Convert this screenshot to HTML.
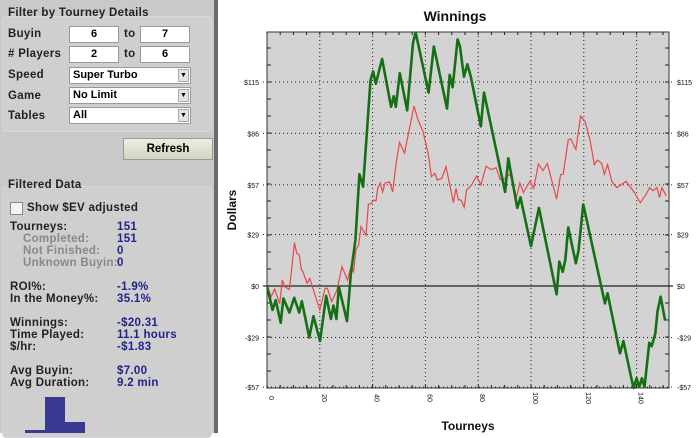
<!DOCTYPE html>
<html><head><meta charset="utf-8"><style>
body{margin:0;width:700px;height:433px;overflow:hidden;background:#fff;font-family:"Liberation Sans",sans-serif;position:relative}
#panel{position:absolute;left:0;top:0;width:214px;height:433px;background:#c9c9c9;border-right:4px solid #6a6a6a}
.t{position:absolute;font-size:11.5px;letter-spacing:0.3px;font-weight:bold;color:#222;white-space:nowrap}
.g{position:absolute;background:#cfcfcf;border:1px solid #d8d8d8;border-radius:4px}
.in{position:absolute;background:#fff;border:1px solid #999;height:15px;font-size:11px;font-weight:bold;text-align:center;line-height:15px}
.sel{position:absolute;background:#fff;border:1px solid #999;height:15px;font-size:11px;font-weight:bold;line-height:15px;padding-left:3px;box-sizing:content-box}
.sel i{position:absolute;right:1px;top:1px;width:11px;height:13px;background:#e4e4e4;border:1px solid #aaa;box-sizing:border-box;font-style:normal;font-size:7px;text-align:center;line-height:12px}
.v{color:#22228a}.gr{color:#888}
</style></head><body>
<div id="panel">
<div class="g" style="left:2px;top:16px;width:208px;height:114px"></div>
<div class="t" style="left:8px;top:7px">Filter by Tourney Details</div>
<div class="t" style="left:8px;top:28px">Buyin</div>
<div class="in" style="left:69px;top:26px;width:48px">6</div>
<div class="t" style="left:124px;top:28px">to</div>
<div class="in" style="left:140px;top:26px;width:48px">7</div>
<div class="t" style="left:8px;top:48px"># Players</div>
<div class="in" style="left:69px;top:46px;width:48px">2</div>
<div class="t" style="left:124px;top:48px">to</div>
<div class="in" style="left:140px;top:46px;width:48px">6</div>
<div class="t" style="left:8px;top:69px">Speed</div>
<div class="sel" style="left:69px;top:67px;width:117px">Super Turbo<i>▼</i></div>
<div class="t" style="left:8px;top:90px">Game</div>
<div class="sel" style="left:69px;top:87px;width:117px">No Limit<i>▼</i></div>
<div class="t" style="left:8px;top:110px">Tables</div>
<div class="sel" style="left:69px;top:107px;width:117px">All<i>▼</i></div>
<div style="position:absolute;left:123px;top:138px;width:88px;height:20px;background:linear-gradient(#eeeede,#d4d4c4);border:1px solid #999;font-size:11.5px;font-weight:bold;text-align:center;line-height:20px">Refresh</div>
<div class="g" style="left:2px;top:186px;width:208px;height:250px"></div>
<div class="t" style="left:8px;top:179px">Filtered Data</div>
<div style="position:absolute;left:10px;top:202px;width:11px;height:11px;background:#f4f4f4;border:1px solid #888"></div>
<div class="t" style="left:27px;top:202px">Show $EV adjusted</div>
<div class="t" style="left:10px;top:221px">Tourneys:</div><div class="t v" style="left:117px;top:221px">151</div>
<div class="t gr" style="left:23px;top:233px">Completed:</div><div class="t v" style="left:117px;top:233px">151</div>
<div class="t gr" style="left:23px;top:245px">Not Finished:</div><div class="t v" style="left:117px;top:245px">0</div>
<div class="t gr" style="left:23px;top:257px">Unknown Buyin:</div><div class="t v" style="left:117px;top:257px">0</div>
<div class="t" style="left:10px;top:281px">ROI%:</div><div class="t v" style="left:117px;top:281px">-1.9%</div>
<div class="t" style="left:10px;top:293px">In the Money%:</div><div class="t v" style="left:117px;top:293px">35.1%</div>
<div class="t" style="left:10px;top:317px">Winnings:</div><div class="t v" style="left:117px;top:317px">-$20.31</div>
<div class="t" style="left:10px;top:329px">Time Played:</div><div class="t v" style="left:117px;top:329px">11.1 hours</div>
<div class="t" style="left:10px;top:341px">$/hr:</div><div class="t v" style="left:117px;top:341px">-$1.83</div>
<div class="t" style="left:10px;top:365px">Avg Buyin:</div><div class="t v" style="left:117px;top:365px">$7.00</div>
<div class="t" style="left:10px;top:377px">Avg Duration:</div><div class="t v" style="left:117px;top:377px">9.2 min</div>
<div style="position:absolute;left:25px;top:430px;width:20px;height:3px;background:#3a3890"></div>
<div style="position:absolute;left:45px;top:397px;width:20px;height:36px;background:#3a3890"></div>
<div style="position:absolute;left:65px;top:422px;width:20px;height:11px;background:#3a3890"></div>
</div>
<svg id="chart" width="700" height="433" style="position:absolute;left:0;top:0"></svg>
<script>
const xTicks=[0,20,40,60,80,100,120,140];
const yTicks=[-57,-29,0,29,57,86,115];
const yTickLabels=["-$57","-$29","$0","$29","$57","$86","$115"];
const greenT=[0,2.1,3.3,5.2,6.2,8.5,10.3,12.2,13.2,16,17.6,20.1,22.4,24.2,25.2,26.3,27.2,30.3,31.8,33.5,35,36.4,37.9,39.2,40.2,41.2,43.6,47,48,48.8,50.3,53.1,55.3,56.3,61.2,63.2,68.2,69.2,70.3,72.2,73.1,74.6,75.9,77.2,81,82.2,90.2,91.4,94.8,96,100,103,109.7,110.7,112,113,114.1,117,118,119.8,128,129,133.7,135,138.8,140,141,142,143,144.8,145.7,147.1,147.9,149.1,150.8];
const greenV=[0,-13.5,-8,-20.7,-7,-15,-6.6,-15,-8.6,-29,-17,-31,-5.6,-18.6,-11,-18.6,-0.4,-19.8,7.5,26,63,56,88,116,121,114,128,101,107,101,120,99,137,143,109,135,100,119,112,139,135,118,125,118,90,109,53,72,44,50,22.5,44,-4.7,13.7,8,14.7,33,12.8,20,46,-9.8,-4.1,-38,-31,-57.5,-52,-57,-52,-57,-32,-34,-26.7,-14.5,-6,-19.5];
const redT=[0,1.6,2.9,4.8,5.8,6.7,8.5,10.4,11.3,12.2,13,13.6,15.2,16.2,20,22,22.9,24.5,26.5,28.4,30.5,31.8,32.8,33.7,34.7,35.6,37.5,38.4,39.4,40.4,41.3,41.9,42.9,43.8,44.7,46.4,47.6,48.9,50.2,52.1,55.7,57.2,59.1,61,62.3,63.6,64.5,66.2,67.8,70.6,71.6,72.5,73.5,74.7,75.6,77.5,79.4,81,83,84.8,86.8,88.3,89.6,92,93.3,94.5,95.8,97.1,99.6,101,102.8,104.5,106.2,109.7,111.2,112.2,114.1,115,117,118.8,120.5,122.4,124,125.2,126.8,127.8,129,130.6,132.5,136,139,141.4,143.3,145,146.2,147.7,148.7,149.6,151.2];
const redV=[0,-6,-1.7,-10,3.4,-0.4,-2,24.4,18.4,17.5,9.4,8,1.5,4.3,-13.5,-1.3,-1.3,-8.8,-2.3,10.9,3.4,10.9,8,20.7,23,33.4,28.7,46,46.6,48.4,48,55,58,53,58,58.7,53,69,81,75,101.5,93.6,87,75,61.6,63.5,59.7,60.6,67.3,47,55,48.5,48.5,44.4,54,57,62,57,67.6,65.6,66.6,60,60,63,57.4,50,58,52.7,59,55,68.8,65,69,49,62.7,63,82.3,83,77,95.8,92.8,82,68.4,71,69,63,68.4,59,55.5,59,53,47,51,55.5,53.7,55.5,49.9,55.5,50.9];
const L=267,R=669,T=32,B=388;
const sx=t=>L+t*2.64;
const sy=v=>286-v*1.774;
const NS='http://www.w3.org/2000/svg';
const svg=document.getElementById('chart');
function mk(tag,attrs,parent){const e=document.createElementNS(NS,tag);for(const k in attrs)e.setAttribute(k,attrs[k]);(parent||svg).appendChild(e);return e;}
let e=mk('rect',{x:L,y:T,width:R-L,height:B-T,fill:'#d3d3d3',stroke:'#333','stroke-width':1});


xTicks.forEach(t=>{
 if(t>0){const g=mk('line',{x1:sx(t),x2:sx(t),y1:T,y2:B,stroke:'#222','stroke-dasharray':'1,3'});
 
 }
 const lb=mk('text',{x:0,y:0,transform:`translate(${sx(t)+2},${B+10}) rotate(90)`,'font-size':7,fill:'#111','text-anchor':'middle'});
 lb.textContent=t;
 
 
});
for(let t=0;t<=152;t+=5){mk('line',{x1:sx(t),x2:sx(t),y1:B,y2:B-3,stroke:'#222'});mk('line',{x1:sx(t),x2:sx(t),y1:T,y2:T+3,stroke:'#222'});}
for(let v=-57.5;v<=143;v+=115/12){mk('line',{x1:L,x2:L+4,y1:sy(v),y2:sy(v),stroke:'#222'});mk('line',{x1:R-4,x2:R,y1:sy(v),y2:sy(v),stroke:'#222'});}
yTicks.forEach((v,i)=>{
 const g=mk('line',{x1:L-4,x2:R+4,y1:sy(v),y2:sy(v),stroke:'#222','stroke-dasharray':v===0?'':'1,3','stroke-width':v===0?1.2:1});
 
 
 const a=mk('text',{x:L-8,y:sy(v)+3,'font-size':7,fill:'#111','text-anchor':'end'});a.textContent=yTickLabels[i];
 
 
 const b=mk('text',{x:R+8,y:sy(v)+3,'font-size':7,fill:'#111'});b.textContent=yTickLabels[i];
 
 
});
const cp=mk('clipPath',{id:'cp'});mk('rect',{x:L,y:T,width:R-L,height:B-T+2},cp);
let r=mk('polyline',{points:redT.map((t,i)=>sx(t)+','+sy(redV[i])).join(' '),fill:'none',stroke:'#e8474c','stroke-width':1.2,'clip-path':'url(#cp)'});


let g=mk('polyline',{points:greenT.map((t,i)=>sx(t)+','+sy(greenV[i])).join(' '),fill:'none',stroke:'#157015','stroke-width':2.6,'stroke-linejoin':'round','clip-path':'url(#cp)'});


let ti=mk('text',{x:455,y:21,'font-size':14,'font-weight':'bold','text-anchor':'middle',fill:'#111'});ti.textContent='Winnings';


let yl=mk('text',{x:0,y:0,transform:'translate(236,210) rotate(-90)','font-size':12,'font-weight':'bold','text-anchor':'middle',fill:'#111'});yl.textContent='Dollars';


let xl=mk('text',{x:468,y:430,'font-size':12,'font-weight':'bold','text-anchor':'middle',fill:'#111'});xl.textContent='Tourneys';


</script>
</body></html>
